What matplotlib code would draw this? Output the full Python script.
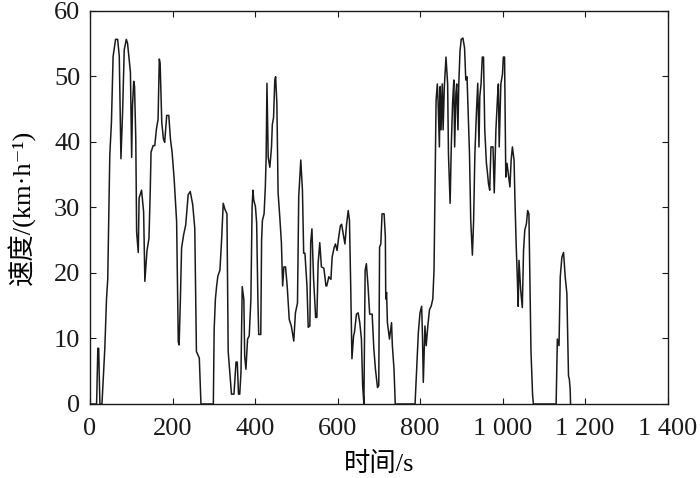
import matplotlib
matplotlib.use("Agg")
import matplotlib.pyplot as plt
from matplotlib.ticker import FuncFormatter

# time (s)
time_s = [0, 16, 19, 21, 24, 29, 36, 40, 43, 48, 52, 56, 62, 67, 71, 75, 79, 83, 88, 91,
          98, 101, 103, 106, 108, 111, 113, 117, 119, 125, 130, 133, 138, 143, 146, 148, 153, 157, 161, 165,
          168, 170, 174, 178, 181, 186, 191, 195, 199, 204, 210, 214, 216, 219, 222, 227, 232, 238, 243, 249,
          254, 258, 265, 269, 299, 301, 304, 307, 310, 315, 319, 323, 327, 332, 335, 339, 343, 349, 354, 357,
          360, 363, 366, 369, 373, 375, 378, 382, 386, 390, 393, 395, 397, 401, 404, 407, 409, 414, 416, 418,
          422, 425, 427, 429, 432, 436, 440, 442, 445, 448, 450, 453, 456, 460, 464, 467, 470, 474, 478, 483,
          488, 494, 498, 503, 506, 509, 511, 515, 518, 521, 526, 529, 533, 535, 538, 542, 547, 550, 553, 557,
          561, 567, 572, 574, 579, 584, 587, 592, 595, 599, 603, 607, 610, 615, 618, 622, 626, 629, 632, 635,
          639, 641, 646, 650, 654, 658, 661, 664, 667, 670, 674, 678, 684, 688, 692, 697, 700, 702, 705, 708,
          713, 716, 717, 719, 721, 726, 731, 733, 737, 740, 788, 792, 796, 800, 804, 806, 808, 812, 815, 819,
          823, 827, 831, 834, 837, 839, 842, 844, 847, 849, 851, 854, 856, 859, 863, 867, 869, 873, 876, 879,
          882, 884, 887, 889, 892, 894, 897, 900, 904, 908, 911, 914, 920, 923, 925, 927, 930, 933, 937, 940,
          943, 945, 948, 951, 954, 957, 961, 963, 966, 969, 972, 977, 980, 984, 988, 990, 992, 996, 1000, 1002,
          1005, 1008, 1011, 1014, 1018, 1021, 1024, 1028, 1030, 1033, 1036, 1038, 1040, 1044, 1048, 1051, 1054, 1058, 1061, 1064,
          1069, 1073, 1075, 1130, 1133, 1137, 1140, 1144, 1148, 1152, 1156, 1160, 1162, 1164, 1165]

# speed (km/h)
speed_kmh = [0, 0, 8.5, 8.5, 0, 0, 8.6, 16, 19, 38, 43, 53, 55.6, 55.6, 53, 37.4, 44.5, 54, 55.6, 55,
             50.6, 37.6, 45.4, 49.2, 48.4, 40.4, 26.3, 23.1, 31.4, 32.6, 29.3, 18.7, 23.3, 25.3, 32.4, 38.4, 39.4, 39.4, 41.9, 43.4,
             52.6, 52, 42.9, 40.4, 39.9, 44, 44, 40.4, 38.4, 34.3, 27.8, 9.5, 9, 15.6, 23.8, 25.8, 27.3, 31.9, 32.4, 30.4,
             26.8, 8, 7, 0, 0, 11.4, 16, 18, 19.5, 20.4, 25, 30.6, 29.7, 29, 8, 4.8, 1.5, 1.5, 6.4, 6.4,
             1.5, 1.5, 4.8, 17.9, 15.9, 7.3, 5.3, 9.9, 10.4, 15.9, 30.1, 32.6, 31.1, 30.1, 27.6, 15.9, 10.6, 10.6, 25, 28,
             29, 33, 37.6, 48.9, 37.6, 36.1, 39.2, 42.6, 43.7, 49.4, 49.9, 45.9, 32.2, 28.6, 24.6, 18, 20.9, 20.9, 18, 12.9,
             11.9, 9.6, 13.9, 15.4, 31.6, 35.1, 37.2, 32.6, 23, 23, 18, 11.7, 11.9, 24.6, 26.7, 19.1, 13.2, 13.2, 21.4, 24.6,
             20.9, 20.7, 18, 18, 19.4, 19, 22.4, 23.9, 24.4, 23.4, 25.5, 27.2, 27.4, 25.5, 24.4, 27.4, 29.5, 28, 18, 6.9,
             10.4, 10.9, 13.7, 13.9, 12.4, 9.9, 2.8, 0, 20.4, 21.4, 18, 13.7, 13.7, 8.5, 5.3, 2.5, 2.8, 23.9, 24.4, 29,
             29, 25.5, 16, 17, 12.4, 9.9, 12.4, 8.9, 5.3, 0, 0, 5.3, 10.9, 13.9, 14.9, 10.4, 3.3, 11.9, 8.9, 11.9,
             14.4, 14.9, 16, 20.4, 35.6, 46.3, 48.8, 45.9, 39.2, 48.4, 41.8, 48.8, 41.8, 48.4, 52.9, 48.8, 38.1, 30.6, 39.7, 45.9,
             49.4, 39.2, 47.4, 48.8, 41.8, 48.8, 53.8, 55.6, 55.8, 54.3, 49.4, 49.9, 38.1, 28, 25.5, 22.7, 28, 38.1, 44.7, 48.9,
             39.2, 46.9, 48.8, 52.9, 52.9, 41.8, 36.7, 35.6, 33.6, 32.6, 39.2, 39.2, 32.2, 41.8, 46.9, 48.8, 39.2, 48.8, 50.3, 52.9,
             52.9, 34.6, 36.7, 35.1, 33.1, 37.2, 39.2, 37.2, 31.6, 24.6, 19.1, 14.9, 21.9, 17.4, 14.7, 23.4, 26.5, 27.5, 29.5, 29,
             8.1, 1.3, 0, 0, 9.9, 8.9, 19.4, 22.4, 23.1, 19.4, 16.9, 4.3, 3.8, 2.3, 0]

x_ticks = [0, 200, 400, 600, 800, 1000, 1200, 1400]
y_ticks = [0, 10, 20, 30, 40, 50, 60]

plt.rcParams['font.family'] = ['Liberation Serif', 'DejaVu Serif', 'Noto Sans CJK SC']

fig = plt.figure(figsize=(7.0, 4.78), dpi=100)
ax = fig.add_axes([90 / 700, 1 - 404 / 478, (667.5 - 90) / 700, (404 - 10.5) / 478])

ax.plot(time_s, speed_kmh, color='#1a1a1a', linewidth=1.1)

ax.set_xlim(0, 1400)
ax.set_ylim(0, 60)
ax.set_xticks(x_ticks)
ax.set_yticks(y_ticks)


def fmt_thousands(v, pos):
    v = int(round(v))
    return f"{v:,}".replace(",", " ")


ax.xaxis.set_major_formatter(FuncFormatter(fmt_thousands))
ax.tick_params(direction='in', top=True, right=True, length=4, width=0.8,
               labelsize=19, colors='#1a1a1a')
ax.tick_params(axis='x', pad=10)
ax.tick_params(axis='y', pad=7)
for sp in ax.spines.values():
    sp.set_linewidth(1.0)
    sp.set_color('#1a1a1a')

ax.set_xlabel('时间/s', fontsize=19, labelpad=9)
ax.set_ylabel('速度/(km·h⁻¹)', fontsize=19, labelpad=13)

fig.savefig('out.png', dpi=100)
